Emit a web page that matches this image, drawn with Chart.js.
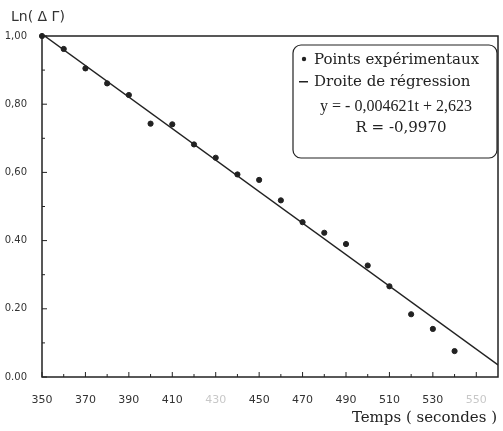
<!DOCTYPE html>
<html>
<head>
<meta charset="utf-8">
<script src="https://cdn.jsdelivr.net/npm/chart.js@4/dist/chart.umd.min.js"></script>
<style>
  html, body { margin: 0; padding: 0; background: #fff; }
  #wrap { width: 503px; height: 431px; }
</style>
</head>
<body>
<div id="wrap"><canvas id="chart" width="503" height="431"></canvas></div>
<script>
// Data
const times = [350, 360, 370, 380, 390, 400, 410, 420, 430, 440,
               450, 460, 470, 480, 490, 500, 510, 520, 530, 540];
const lnDeltaGamma = [1.00, 0.962, 0.905, 0.861, 0.827, 0.743, 0.741, 0.682, 0.643, 0.594,
                      0.578, 0.518, 0.454, 0.423, 0.390, 0.327, 0.266, 0.184, 0.141, 0.076];

// Regression line from the printed equation
const slope = -0.004621;
const intercept = 2.623;
const regTimes = [350, 560];

// Axis ticks
const xTicks = [350, 370, 390, 410, 430, 450, 470, 490, 510, 530, 550];
const xMinor = [360, 380, 400, 420, 440, 460, 480, 500, 520, 540];
const xFaint = [430, 550];
const yTicks = [0, 0.2, 0.4, 0.6, 0.8, 1.0];
const yTickLabels = ['0.00', '0.20', '0.40', '0,60', '0,80', '1,00'];
const yMinor = [0.1, 0.3, 0.5, 0.7, 0.9];

const legendLines = ['Points expérimentaux', 'Droite de régression', 'y = - 0,004621t + 2,623', 'R = -0,9970'];

const ink = '#222';
const serif = '15px "DejaVu Serif", serif';
const serifNarrow = '16px "Liberation Serif", serif';

// frame, inside ticks, legend box and titles
const decor = {
    id: 'decor',
    afterDraw(chart) {
        const ctx = chart.ctx;
        const a = chart.chartArea;
        const xs = chart.scales.x, ys = chart.scales.y;
        ctx.save();
        ctx.strokeStyle = ink;
        ctx.lineWidth = 1.5;
        ctx.strokeRect(a.left, a.top, a.right - a.left, a.bottom - a.top);

        ctx.lineWidth = 1;
        ctx.beginPath();
        xTicks.forEach(v => { const p = xs.getPixelForValue(v); ctx.moveTo(p, a.bottom); ctx.lineTo(p, a.bottom - 5); });
        xMinor.forEach(v => { const p = xs.getPixelForValue(v); ctx.moveTo(p, a.bottom); ctx.lineTo(p, a.bottom - 3); });
        yTicks.forEach(v => { const p = ys.getPixelForValue(v); ctx.moveTo(a.left, p); ctx.lineTo(a.left + 5, p); });
        yMinor.forEach(v => { const p = ys.getPixelForValue(v); ctx.moveTo(a.left, p); ctx.lineTo(a.left + 3, p); });
        ctx.stroke();

        // legend box
        const bx = 293, by = 45, bw = 204, bh = 113;
        ctx.lineWidth = 1.2;
        ctx.beginPath();
        ctx.roundRect(bx, by, bw, bh, 8);
        ctx.fillStyle = '#fff';
        ctx.fill();
        ctx.stroke();

        ctx.fillStyle = ink;
        ctx.font = serif;
        ctx.textBaseline = 'middle';
        ctx.textAlign = 'left';
        ctx.beginPath();
        ctx.arc(304, 59, 2.2, 0, Math.PI * 2);
        ctx.fill();
        ctx.fillText(legendLines[0], 314, 60);
        ctx.fillRect(299, 81, 9, 1.5);
        ctx.fillText(legendLines[1], 314, 82);
        ctx.textAlign = 'center';
        ctx.font = serifNarrow;
        ctx.fillText(legendLines[2], bx + bw / 2 + 1, 107);
        ctx.font = serif;
        ctx.fillText(legendLines[3], bx + bw / 2 + 6, 128);

        // axis titles
        ctx.textAlign = 'left';
        ctx.font = '14px "DejaVu Sans", sans-serif';
        ctx.fillStyle = '#333';
        ctx.fillText('Ln( \u0394 \u0393)', 11, 17);
        ctx.font = serif;
        ctx.textAlign = 'right';
        ctx.fillStyle = ink;
        ctx.fillText('Temps ( secondes )', 497, 418);
        ctx.restore();
    }
};

new Chart(document.getElementById('chart'), {
    type: 'scatter',
    data: {
        datasets: [
            {
                label: 'Points expérimentaux',
                data: times.map((t, i) => ({ x: t, y: lnDeltaGamma[i] })),
                backgroundColor: ink,
                borderColor: ink,
                pointRadius: 2.6,
                clip: false,
                order: 1
            },
            {
                type: 'line',
                label: 'Droite de régression',
                data: regTimes.map(t => ({ x: t, y: slope * t + intercept })),
                borderColor: ink,
                borderWidth: 1.4,
                pointRadius: 0,
                fill: false,
                order: 2
            }
        ]
    },
    options: {
        responsive: false,
        animation: false,
        layout: { padding: { top: 36, right: 3, left: 0, bottom: 0 } },
        plugins: { legend: { display: false }, tooltip: { enabled: false } },
        scales: {
            x: {
                type: 'linear',
                min: 350,
                max: 560,
                afterBuildTicks: s => { s.ticks = xTicks.map(v => ({ value: v })); },
                afterFit: s => { s.height = 54; },
                grid: { display: false },
                border: { display: false },
                ticks: {
                    padding: 9,
                    autoSkip: false,
                    maxRotation: 0,
                    font: { family: '"DejaVu Sans", sans-serif', size: 11 },
                    color: ctx => xFaint.includes(ctx.tick.value) ? '#c8c8c8' : '#333',
                    callback: v => String(v)
                }
            },
            y: {
                min: 0,
                max: 1,
                afterBuildTicks: s => { s.ticks = yTicks.map(v => ({ value: v })); },
                afterFit: s => { s.width = 42; },
                grid: { display: false },
                border: { display: false },
                ticks: {
                    padding: 7,
                    font: { family: '"DejaVu Sans", sans-serif', size: 10 },
                    color: '#333',
                    callback: (v, i) => yTickLabels[i]
                }
            }
        }
    },
    plugins: [decor]
});
</script>
</body>
</html>
